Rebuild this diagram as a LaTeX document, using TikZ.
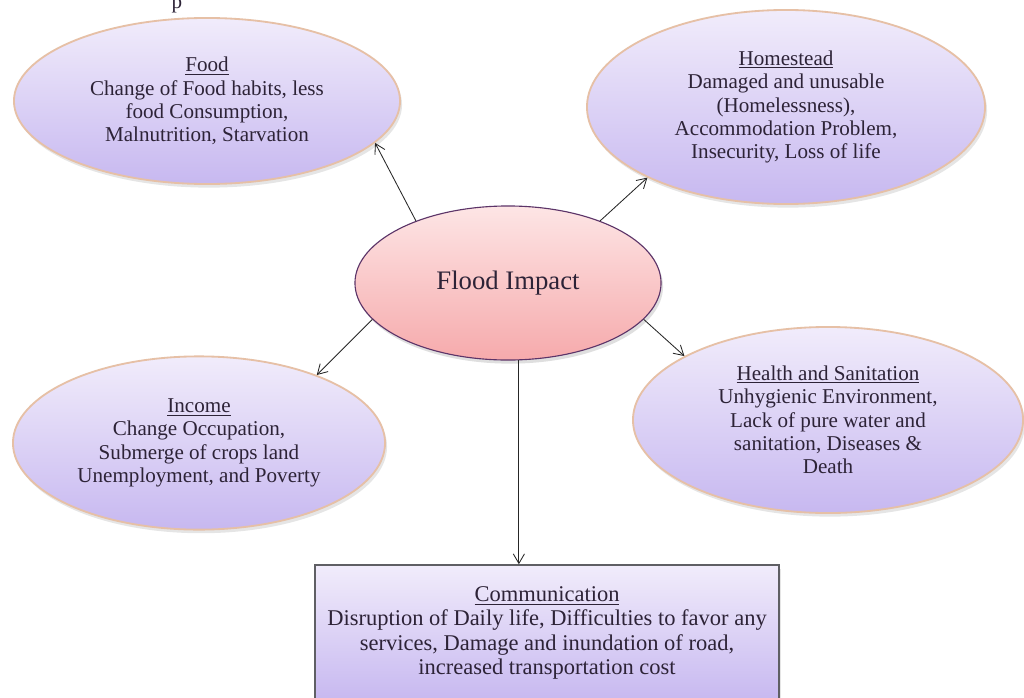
\documentclass[tikz,border=0pt]{standalone}
\usepackage{fontspec}
\setmainfont{Liberation Serif}
\usetikzlibrary{arrows.meta,shapes.geometric,shadows,positioning}
\definecolor{LavTop}{RGB}{241,236,251}
\definecolor{LavBottom}{RGB}{199,184,240}
\definecolor{LavEdge}{RGB}{230,192,166}
\definecolor{PinkTop}{RGB}{253,229,229}
\definecolor{PinkBottom}{RGB}{246,170,172}
\definecolor{PinkEdge}{RGB}{92,52,104}
\definecolor{TextInk}{RGB}{45,35,55}
\definecolor{BoxEdge}{RGB}{95,95,100}
\tikzset{
  effect/.style={ellipse,inner sep=0pt,align=center,text=TextInk,
    top color=LavTop,bottom color=LavBottom,draw=LavEdge,line width=1.3pt,
    drop shadow={shadow xshift=0.5mm,shadow yshift=-0.9mm,opacity=0.2},
    font=\fontsize{15}{16.6}\selectfont},
  core/.style={ellipse,inner sep=0pt,text=TextInk,
    top color=PinkTop,bottom color=PinkBottom,draw=PinkEdge,line width=0.8pt,
    drop shadow={shadow xshift=0.5mm,shadow yshift=-0.9mm,opacity=0.25},
    font=\fontsize{19}{21}\selectfont},
  effectbox/.style={rectangle,inner sep=0pt,align=center,text=TextInk,
    top color=LavTop,bottom color=LavBottom,draw=BoxEdge,line width=1pt,
    drop shadow={shadow xshift=0.5mm,shadow yshift=-0.9mm,opacity=0.2},
    font=\fontsize{16}{17.2}\selectfont},
  link/.style={-{Straight Barb[length=2.4mm,width=2.8mm]},line width=0.6pt,black!85}
}

\begin{document}
\begin{tikzpicture}[x=0.025cm,y=-0.025cm]
  \fill[white] (0,0) rectangle (1024,697);
  \useasboundingbox (0,0) rectangle (1024,697);
  % cut-off text at the top edge
  \node[anchor=base,inner sep=0pt,text=TextInk,font=\fontsize{15}{16}\selectfont] (cut) at (177,9) {p};

  \node[core,minimum width=7.65cm,minimum height=3.85cm] (flood) at (508,283) {Flood Impact};

  \node[effect,minimum width=9.65cm,minimum height=4.15cm] (food) at (207,101)
    {\underline{Food}\\Change of Food habits, less\\food Consumption,\\Malnutrition, Starvation};
  \node[effect,minimum width=9.95cm,minimum height=4.85cm] (homestead) at (786,107)
    {\underline{Homestead}\\Damaged and unusable\\(Homelessness),\\Accommodation Problem,\\Insecurity, Loss of life};
  \node[effect,minimum width=9.3cm,minimum height=4.33cm] (income) at (199,443)
    {\underline{Income}\\Change Occupation,\\Submerge of crops land\\Unemployment, and Poverty};
  \node[effect,minimum width=9.75cm,minimum height=4.65cm] (health) at (828,420)
    {\underline{Health and Sanitation}\\Unhygienic Environment,\\Lack of pure water and\\sanitation, Diseases \&\\Death};
  \node[effectbox,minimum width=11.6cm,minimum height=3.4cm] (comm) at (547,633)
    {\underline{Communication}\\Disruption of Daily life, Difficulties to favor any\\services, Damage and inundation of road,\\increased transportation cost};

  \draw[link] (flood.146) -- (food.-14);
  \draw[link] (flood.34) -- (homestead.207);
  \draw[link] (flood.195) -- (income.30);
  \draw[link] (flood.-15) -- (health.156);
  \draw[link] (flood.-82) -- (flood.-82 |- comm.north);
\end{tikzpicture}
\end{document}
